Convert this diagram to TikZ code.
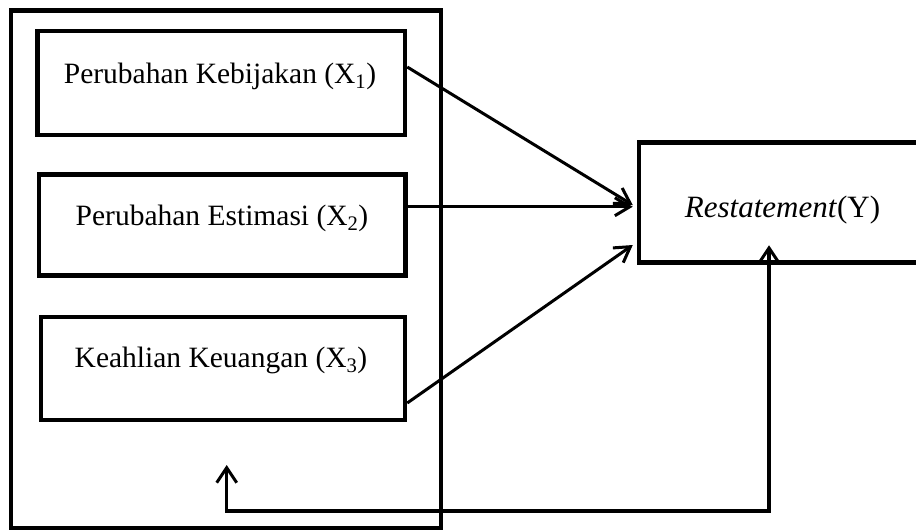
\documentclass[tikz,border=0pt]{standalone}
\usepackage{fontspec}
\setmainfont{Liberation Serif}
\usetikzlibrary{arrows.meta}
\begin{document}
\begin{tikzpicture}[x=1pt,y=-1pt,
  box/.style={draw, line width=4.5pt, rectangle, inner sep=0pt},
  lbl/.style={font=\fontsize{29.5}{34}\selectfont, inner sep=0pt, anchor=base},
  conn/.style={line width=3pt, -{Straight Barb[length=15pt,width=18pt,line width=3pt]}},
  fb/.style={line width=3.5pt, {Straight Barb[length=15pt,width=20pt,line width=3pt]}-{Straight Barb[length=15pt,width=20pt,line width=3pt]}}]
\useasboundingbox (0,0) rectangle (916,531);
\clip (0,0) rectangle (916,531);
\node[box, minimum width=430pt, minimum height=517.5pt] (outer) at (226,269.25) {};
\node[box, minimum width=367.5pt, minimum height=104pt] (b1) at (221.25,83) {};
\node[box, minimum width=366.5pt, minimum height=101pt] (b2) at (222.25,225) {};
\node[box, minimum width=364pt, minimum height=103pt] (b3) at (223,368.5) {};
\node[box, minimum width=291pt, minimum height=120pt] (rest) at (784.5,202.5) {};
\node[lbl] (t1) at (220,83) {Perubahan Kebijakan (X\textsubscript{1})};
\node[lbl] (t2) at (222,225) {Perubahan Estimasi (X\textsubscript{2})};
\node[lbl] (t3) at (221,367) {Keahlian Keuangan (X\textsubscript{3})};
\node[lbl, font=\fontsize{31}{36}\selectfont] (ty) at (782.5,217) {\textit{Restatement}(Y)};
\draw[conn] ([yshift=16pt]b1.east) -- ([xshift=-4pt,yshift=-2.5pt]rest.west);
\draw[conn] ([yshift=18.3pt]b2.east) -- ([xshift=-4pt,yshift=-4.2pt]rest.west);
\draw[conn] ([yshift=-34.5pt]b3.east) -- ([xshift=-4pt,yshift=-42.5pt]rest.west);
\coordinate (fbA) at (226.7,465);
\coordinate (fbB) at (769,511);
\draw[fb] (fbA) |- (fbB) -- ([xshift=-15.5pt,yshift=19.5pt]rest.south);
\end{tikzpicture}
\end{document}
